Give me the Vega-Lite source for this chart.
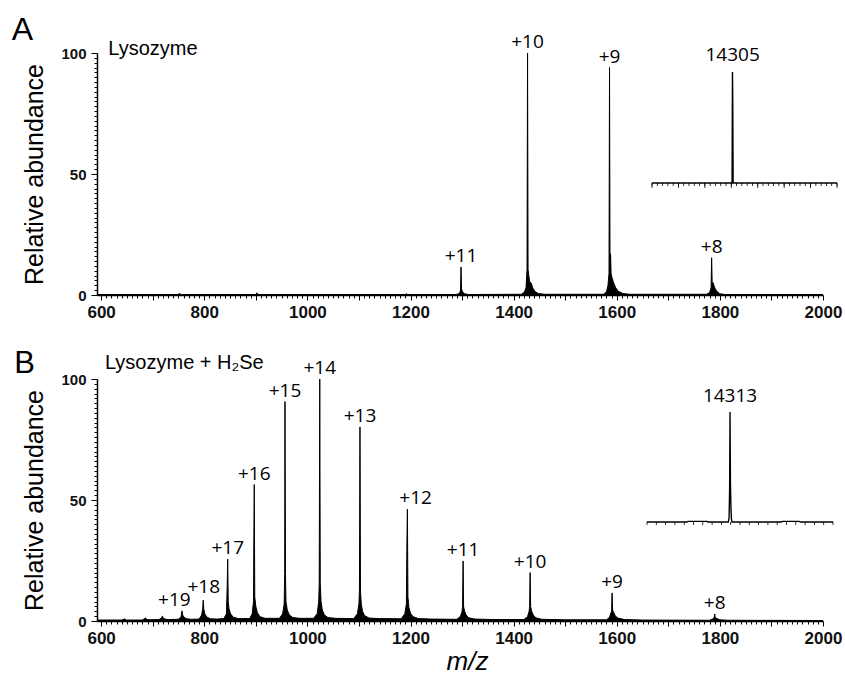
{
  "$schema": "https://vega.github.io/schema/vega-lite/v6.json",
  "autosize": {"type": "none"},
  "padding": {"left": 97, "top": 53, "right": 748, "bottom": 621},
  "background": "white",
  "bounds": "flush",
  "spacing": 84,
  "config": {
    "view": {"stroke": null},
    "font": "Liberation Sans",
    "axis": {
      "domainColor": "black",
      "domainWidth": 1.5,
      "tickColor": "black",
      "tickWidth": 1,
      "grid": false,
      "labelFont": "Liberation Sans",
      "labelFontWeight": "bold",
      "labelColor": "#111111",
      "labelOverlap": false,
      "labelFlush": false,
      "titleFont": "Liberation Sans",
      "titleFontWeight": "normal",
      "titleColor": "black"
    }
  },
  "datasets": {
    "specA": [
      {"mz": 592, "ab": 0.2}, {"mz": 750, "ab": 0.2}, {"mz": 752, "ab": 0.8}, {"mz": 754, "ab": 0.2},
      {"mz": 900, "ab": 0.2}, {"mz": 902, "ab": 0.9}, {"mz": 904, "ab": 0.2},
      {"mz": 1190, "ab": 0.2}, {"mz": 1192, "ab": 0.6}, {"mz": 1194, "ab": 0.2},
      {"mz": 1288, "ab": 0.2}, {"mz": 1295, "ab": 0.6}, {"mz": 1297, "ab": 2}, {"mz": 1298, "ab": 11.6}, {"mz": 1299, "ab": 2.5}, {"mz": 1301, "ab": 1.2}, {"mz": 1305, "ab": 0.5}, {"mz": 1312, "ab": 0.2},
      {"mz": 1415, "ab": 0.3}, {"mz": 1421, "ab": 1.2}, {"mz": 1424, "ab": 3}, {"mz": 1426, "ab": 10.5}, {"mz": 1427, "ab": 100}, {"mz": 1428, "ab": 10.5}, {"mz": 1429.5, "ab": 8}, {"mz": 1431, "ab": 5.5}, {"mz": 1434, "ab": 5}, {"mz": 1437, "ab": 3}, {"mz": 1441, "ab": 1.5}, {"mz": 1448, "ab": 0.6}, {"mz": 1460, "ab": 0.3},
      {"mz": 1574, "ab": 0.3}, {"mz": 1580, "ab": 1.2}, {"mz": 1583, "ab": 4}, {"mz": 1585, "ab": 9}, {"mz": 1586, "ab": 94}, {"mz": 1587, "ab": 10}, {"mz": 1588, "ab": 17}, {"mz": 1589, "ab": 9}, {"mz": 1591, "ab": 7}, {"mz": 1594, "ab": 5}, {"mz": 1598, "ab": 3}, {"mz": 1603, "ab": 1.5}, {"mz": 1612, "ab": 0.6}, {"mz": 1625, "ab": 0.3},
      {"mz": 1774, "ab": 0.3}, {"mz": 1780, "ab": 1}, {"mz": 1783, "ab": 3}, {"mz": 1784, "ab": 15.4}, {"mz": 1785, "ab": 5.5}, {"mz": 1787, "ab": 5}, {"mz": 1790, "ab": 3}, {"mz": 1794, "ab": 1.5}, {"mz": 1800, "ab": 0.5}, {"mz": 1810, "ab": 0.2},
      {"mz": 2000, "ab": 0.2}
    ],
    "specB": [
      {"mz": 592, "ab": 0.4}, {"mz": 640, "ab": 0.4}, {"mz": 646, "ab": 0.9}, {"mz": 648, "ab": 0.4},
      {"mz": 680, "ab": 0.4}, {"mz": 686, "ab": 1.2}, {"mz": 689, "ab": 0.6}, {"mz": 695, "ab": 0.5},
      {"mz": 712, "ab": 0.6}, {"mz": 717, "ab": 1.2}, {"mz": 719, "ab": 2.1}, {"mz": 720, "ab": 1.2}, {"mz": 724, "ab": 0.8}, {"mz": 730, "ab": 0.6},
      {"mz": 750, "ab": 0.7}, {"mz": 755, "ab": 1.8}, {"mz": 757, "ab": 4.2}, {"mz": 758, "ab": 2.5}, {"mz": 761, "ab": 1.5}, {"mz": 766, "ab": 0.9}, {"mz": 775, "ab": 0.7},
      {"mz": 790, "ab": 0.8}, {"mz": 795, "ab": 2.5}, {"mz": 797, "ab": 5}, {"mz": 798, "ab": 8.6}, {"mz": 799, "ab": 5}, {"mz": 801, "ab": 3}, {"mz": 805, "ab": 1.6}, {"mz": 812, "ab": 0.9}, {"mz": 825, "ab": 0.8},
      {"mz": 838, "ab": 1}, {"mz": 843, "ab": 3}, {"mz": 844.5, "ab": 14.5}, {"mz": 845.5, "ab": 25.6}, {"mz": 846.5, "ab": 8}, {"mz": 848, "ab": 5}, {"mz": 851, "ab": 3}, {"mz": 856, "ab": 1.6}, {"mz": 866, "ab": 1},
      {"mz": 888, "ab": 1}, {"mz": 893, "ab": 3}, {"mz": 895.5, "ab": 8}, {"mz": 896, "ab": 28}, {"mz": 897, "ab": 56.4}, {"mz": 898, "ab": 10}, {"mz": 900, "ab": 6}, {"mz": 903, "ab": 3.5}, {"mz": 908, "ab": 1.8}, {"mz": 918, "ab": 1.1},
      {"mz": 946, "ab": 1.1}, {"mz": 952, "ab": 3}, {"mz": 955, "ab": 7}, {"mz": 956, "ab": 19.6}, {"mz": 956.6, "ab": 90.7}, {"mz": 957.5, "ab": 19.6}, {"mz": 958.5, "ab": 8}, {"mz": 961, "ab": 4.5}, {"mz": 965, "ab": 2.5}, {"mz": 972, "ab": 1.4}, {"mz": 985, "ab": 1.1},
      {"mz": 1012, "ab": 1.1}, {"mz": 1019, "ab": 3}, {"mz": 1022, "ab": 8}, {"mz": 1023, "ab": 15.6}, {"mz": 1024, "ab": 100}, {"mz": 1025, "ab": 15.6}, {"mz": 1026.5, "ab": 8}, {"mz": 1029, "ab": 4.5}, {"mz": 1033, "ab": 2.5}, {"mz": 1040, "ab": 1.4}, {"mz": 1055, "ab": 1.1},
      {"mz": 1090, "ab": 1}, {"mz": 1097, "ab": 3}, {"mz": 1100, "ab": 7}, {"mz": 1101, "ab": 12.8}, {"mz": 1102, "ab": 80.2}, {"mz": 1103, "ab": 12.8}, {"mz": 1104.5, "ab": 7}, {"mz": 1107, "ab": 4}, {"mz": 1111, "ab": 2.2}, {"mz": 1120, "ab": 1.2}, {"mz": 1140, "ab": 1},
      {"mz": 1182, "ab": 0.9}, {"mz": 1189, "ab": 3}, {"mz": 1192, "ab": 7}, {"mz": 1193, "ab": 32}, {"mz": 1194, "ab": 46.2}, {"mz": 1195, "ab": 10}, {"mz": 1197, "ab": 5.5}, {"mz": 1200, "ab": 3.2}, {"mz": 1205, "ab": 1.8}, {"mz": 1215, "ab": 1}, {"mz": 1240, "ab": 0.8},
      {"mz": 1290, "ab": 0.7}, {"mz": 1297, "ab": 2}, {"mz": 1300, "ab": 4}, {"mz": 1301, "ab": 5.9}, {"mz": 1302, "ab": 24.8}, {"mz": 1303, "ab": 5.9}, {"mz": 1305, "ab": 4}, {"mz": 1308, "ab": 2.5}, {"mz": 1313, "ab": 1.3}, {"mz": 1325, "ab": 0.8}, {"mz": 1360, "ab": 0.6},
      {"mz": 1420, "ab": 0.6}, {"mz": 1427, "ab": 1.8}, {"mz": 1430, "ab": 4}, {"mz": 1431, "ab": 5.9}, {"mz": 1432, "ab": 20}, {"mz": 1433, "ab": 5.9}, {"mz": 1435, "ab": 4}, {"mz": 1438, "ab": 2.5}, {"mz": 1443, "ab": 1.3}, {"mz": 1455, "ab": 0.7}, {"mz": 1500, "ab": 0.5},
      {"mz": 1580, "ab": 0.5}, {"mz": 1586, "ab": 1.5}, {"mz": 1589, "ab": 3.5}, {"mz": 1590, "ab": 4}, {"mz": 1591, "ab": 11.6}, {"mz": 1592, "ab": 4.5}, {"mz": 1594, "ab": 3.5}, {"mz": 1597, "ab": 2.2}, {"mz": 1602, "ab": 1.2}, {"mz": 1615, "ab": 0.6}, {"mz": 1650, "ab": 0.4},
      {"mz": 1780, "ab": 0.3}, {"mz": 1786, "ab": 0.8}, {"mz": 1789, "ab": 1.5}, {"mz": 1790, "ab": 2.9}, {"mz": 1791, "ab": 1.5}, {"mz": 1794, "ab": 1}, {"mz": 1800, "ab": 0.5}, {"mz": 1815, "ab": 0.3},
      {"mz": 2000, "ab": 0.2}
    ],
    "labA": [
      {"t": "+11", "mz": 1298, "ab": 11.6}, {"t": "+10", "mz": 1427, "ab": 100},
      {"t": "+9", "mz": 1586, "ab": 94}, {"t": "+8", "mz": 1784, "ab": 15.4}
    ],
    "labB": [
      {"t": "+19", "mz": 742, "ab": 4.2}, {"t": "+18", "mz": 799, "ab": 9.4}, {"t": "+17", "mz": 845.5, "ab": 25.6},
      {"t": "+16", "mz": 897, "ab": 56.4}, {"t": "+15", "mz": 956.6, "ab": 90.7}, {"t": "+14", "mz": 1024, "ab": 100},
      {"t": "+13", "mz": 1102, "ab": 80.2}, {"t": "+12", "mz": 1210, "ab": 46.2}, {"t": "+11", "mz": 1302, "ab": 24.8},
      {"t": "+10", "mz": 1432, "ab": 20}, {"t": "+9", "mz": 1591, "ab": 11.6}, {"t": "+8", "mz": 1790, "ab": 2.9}
    ],
    "letterA": [{"t": "A", "mz": 447.6, "ab": 105.4}],
    "letterB": [{"t": "B", "mz": 451.5, "ab": 102.4}],
    "nameA": [{"t": "Lysozyme", "mz": 614, "ab": 99.2}],
    "nameB": [{"t": "Lysozyme + H₂Se", "mz": 607.5, "ab": 104.1}],
    "insA": [
      {"mass": 14000, "ab": 0}, {"mass": 14303, "ab": 0}, {"mass": 14304.5, "ab": 100}, {"mass": 14305.5, "ab": 75},
      {"mass": 14307, "ab": 0}, {"mass": 14700, "ab": 0}
    ],
    "insB": [
      {"mass": 14000, "ab": 0}, {"mass": 14150, "ab": 0}, {"mass": 14155, "ab": 0.6}, {"mass": 14225, "ab": 0.6}, {"mass": 14230, "ab": 0},
      {"mass": 14306, "ab": 0}, {"mass": 14309, "ab": 4}, {"mass": 14311, "ab": 30}, {"mass": 14312.5, "ab": 100}, {"mass": 14314, "ab": 35},
      {"mass": 14316, "ab": 12}, {"mass": 14318, "ab": 2}, {"mass": 14320, "ab": 0},
      {"mass": 14505, "ab": 0}, {"mass": 14510, "ab": 0.6}, {"mass": 14572, "ab": 0.6}, {"mass": 14577, "ab": 0}, {"mass": 14700, "ab": 0}
    ],
    "insLabA": [{"t": "14305", "mass": 14305, "ab": 100}],
    "insLabB": [{"t": "14313", "mass": 14312.5, "ab": 100}],
    "ticksA": [
      {"mass": 14000, "ab": 0}, {"mass": 14020, "ab": 0}, {"mass": 14040, "ab": 0}, {"mass": 14060, "ab": 0}, {"mass": 14080, "ab": 0}, {"mass": 14100, "ab": 0}, {"mass": 14120, "ab": 0}, {"mass": 14140, "ab": 0}, {"mass": 14160, "ab": 0}, {"mass": 14180, "ab": 0},
      {"mass": 14200, "ab": 0}, {"mass": 14220, "ab": 0}, {"mass": 14240, "ab": 0}, {"mass": 14260, "ab": 0}, {"mass": 14280, "ab": 0}, {"mass": 14300, "ab": 0}, {"mass": 14320, "ab": 0}, {"mass": 14340, "ab": 0}, {"mass": 14360, "ab": 0}, {"mass": 14380, "ab": 0},
      {"mass": 14400, "ab": 0}, {"mass": 14420, "ab": 0}, {"mass": 14440, "ab": 0}, {"mass": 14460, "ab": 0}, {"mass": 14480, "ab": 0}, {"mass": 14500, "ab": 0}, {"mass": 14520, "ab": 0}, {"mass": 14540, "ab": 0}, {"mass": 14560, "ab": 0}, {"mass": 14580, "ab": 0},
      {"mass": 14600, "ab": 0}, {"mass": 14620, "ab": 0}, {"mass": 14640, "ab": 0}, {"mass": 14660, "ab": 0}, {"mass": 14680, "ab": 0}, {"mass": 14700, "ab": 0}
    ],
    "ticksB": [
      {"mass": 14000, "ab": 0}, {"mass": 14035, "ab": 0}, {"mass": 14070, "ab": 0}, {"mass": 14105, "ab": 0}, {"mass": 14140, "ab": 0}, {"mass": 14175, "ab": 0}, {"mass": 14210, "ab": 0},
      {"mass": 14245, "ab": 0}, {"mass": 14280, "ab": 0}, {"mass": 14315, "ab": 0}, {"mass": 14350, "ab": 0}, {"mass": 14385, "ab": 0}, {"mass": 14420, "ab": 0}, {"mass": 14455, "ab": 0},
      {"mass": 14490, "ab": 0}, {"mass": 14525, "ab": 0}, {"mass": 14560, "ab": 0}, {"mass": 14595, "ab": 0}, {"mass": 14630, "ab": 0}, {"mass": 14665, "ab": 0}, {"mass": 14700, "ab": 0}
    ]
  },
  "vconcat": [
    {
      "width": 726,
      "height": 242,
      "layer": [
        {
          "encoding": {
            "x": {"field": "mz", "type": "quantitative", "scale": {"domain": [592, 2000], "nice": false, "zero": false},
              "axis": {"tickCount": 140, "format": "d", "labelExpr": "datum.value % 200 === 0 ? datum.label : ''",
                "labelFontSize": 17, "labelPadding": 4, "title": null,
                "tickSize": {"condition": {"test": "datum.value % 100 === 0", "value": 5}, "value": 3}}},
            "y": {"field": "ab", "type": "quantitative", "scale": {"domain": [0, 100], "nice": false},
              "axis": {"tickCount": 50, "format": "d", "labelExpr": "datum.value % 50 === 0 ? datum.label : ''",
                "labelFontSize": 15, "labelPadding": 5, "title": "Relative abundance", "titleFontSize": 25, "titlePadding": 13,
                "tickSize": {"condition": {"test": "datum.value % 50 === 0", "value": 6}, "value": 3}}}
          },
          "layer": [
            {"data": {"name": "specA"}, "mark": {"type": "area", "color": "black", "opacity": 1}},
            {"data": {"name": "specA"}, "mark": {"type": "line", "color": "black", "strokeWidth": 1}},
            {"data": {"name": "labA"}, "mark": {"type": "text", "font": "Open Sans", "fontSize": 19, "dy": -5, "baseline": "alphabetic", "align": "center", "color": "black"}, "encoding": {"text": {"field": "t"}}},
            {"data": {"name": "letterA"}, "mark": {"type": "text", "font": "Liberation Sans", "fontSize": 32, "baseline": "alphabetic", "align": "center", "color": "black"}, "encoding": {"text": {"field": "t"}}},
            {"data": {"name": "nameA"}, "mark": {"type": "text", "font": "Liberation Sans", "fontSize": 20, "baseline": "alphabetic", "align": "left", "color": "black"}, "encoding": {"text": {"field": "t"}}}
          ]
        },
        {
          "encoding": {
            "x": {"field": "mass", "type": "quantitative", "scale": {"domain": [14000, 14700], "range": [555, 740], "nice": false, "zero": false}, "axis": null},
            "y": {"field": "ab", "type": "quantitative", "scale": {"domain": [0, 100], "range": [130, 19], "nice": false}, "axis": null}
          },
          "layer": [
            {"data": {"name": "insA"}, "mark": {"type": "line", "color": "black", "strokeWidth": 1.4}},
            {"data": {"name": "ticksA"}, "mark": {"type": "tick", "orient": "vertical", "color": "black", "size": 3, "thickness": 0.8, "yOffset": 1.5, "opacity": 1}},
            {"data": {"name": "ticksA"}, "transform": [{"filter": "datum.mass % 100 === 0"}], "mark": {"type": "tick", "orient": "vertical", "color": "black", "size": 5, "thickness": 0.8, "yOffset": 2.5, "opacity": 1}},
            {"data": {"name": "insLabA"}, "mark": {"type": "text", "font": "Open Sans", "fontSize": 19, "dy": -11, "baseline": "alphabetic", "align": "center", "color": "black"}, "encoding": {"text": {"field": "t"}}}
          ]
        }
      ],
      "resolve": {"scale": {"x": "independent", "y": "independent"}}
    },
    {
      "width": 726,
      "height": 242,
      "layer": [
        {
          "encoding": {
            "x": {"field": "mz", "type": "quantitative", "scale": {"domain": [592, 2000], "nice": false, "zero": false},
              "axis": {"tickCount": 140, "format": "d", "labelExpr": "datum.value % 200 === 0 ? datum.label : ''",
                "labelFontSize": 17, "labelPadding": 4, "title": "m/z", "titleFontSize": 26, "titleFontStyle": "italic", "titlePadding": 2, "titleX": 370,
                "tickSize": {"condition": {"test": "datum.value % 100 === 0", "value": 5}, "value": 3}}},
            "y": {"field": "ab", "type": "quantitative", "scale": {"domain": [0, 100], "nice": false},
              "axis": {"tickCount": 50, "format": "d", "labelExpr": "datum.value % 50 === 0 ? datum.label : ''",
                "labelFontSize": 15, "labelPadding": 5, "title": "Relative abundance", "titleFontSize": 25, "titlePadding": 13,
                "tickSize": {"condition": {"test": "datum.value % 50 === 0", "value": 6}, "value": 3}}}
          },
          "layer": [
            {"data": {"name": "specB"}, "mark": {"type": "area", "color": "black", "opacity": 1}},
            {"data": {"name": "specB"}, "mark": {"type": "line", "color": "black", "strokeWidth": 1}},
            {"data": {"name": "labB"}, "mark": {"type": "text", "font": "Open Sans", "fontSize": 19, "dy": -5, "baseline": "alphabetic", "align": "center", "color": "black"}, "encoding": {"text": {"field": "t"}}},
            {"data": {"name": "letterB"}, "mark": {"type": "text", "font": "Liberation Sans", "fontSize": 31, "baseline": "alphabetic", "align": "center", "color": "black"}, "encoding": {"text": {"field": "t"}}},
            {"data": {"name": "nameB"}, "mark": {"type": "text", "font": "Liberation Sans", "fontSize": 20, "baseline": "alphabetic", "align": "left", "color": "black"}, "encoding": {"text": {"field": "t"}}}
          ]
        },
        {
          "encoding": {
            "x": {"field": "mass", "type": "quantitative", "scale": {"domain": [14000, 14700], "range": [550, 736], "nice": false, "zero": false}, "axis": null},
            "y": {"field": "ab", "type": "quantitative", "scale": {"domain": [0, 100], "range": [143, 33], "nice": false}, "axis": null}
          },
          "layer": [
            {"data": {"name": "insB"}, "mark": {"type": "line", "color": "black", "strokeWidth": 1.4}},
            {"data": {"name": "ticksB"}, "mark": {"type": "tick", "orient": "vertical", "color": "black", "size": 3, "thickness": 0.8, "yOffset": 1.5, "opacity": 1}},
            {"data": {"name": "insLabB"}, "mark": {"type": "text", "font": "Open Sans", "fontSize": 19, "dy": -10, "baseline": "alphabetic", "align": "center", "color": "black"}, "encoding": {"text": {"field": "t"}}}
          ]
        }
      ],
      "resolve": {"scale": {"x": "independent", "y": "independent"}}
    }
  ]
}
